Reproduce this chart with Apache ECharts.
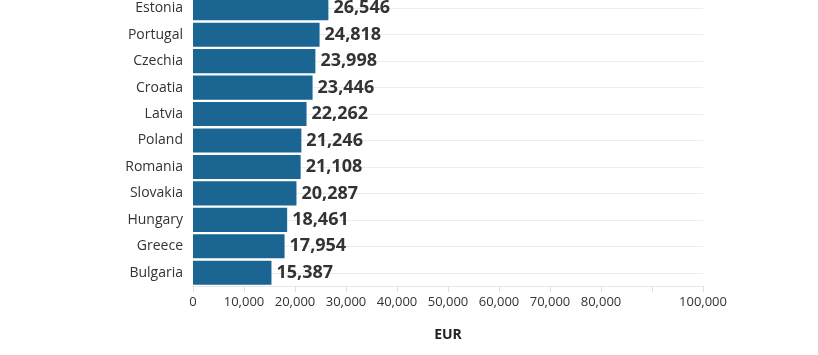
<!DOCTYPE html>
<html><head><meta charset="utf-8">
<script src="https://cdn.jsdelivr.net/npm/echarts@6/dist/echarts.min.js"></script>
<style>html,body{margin:0;padding:0;background:#fff;overflow:hidden}#c{width:818px;height:360px;position:absolute;left:0;top:-5px}</style>
</head><body><div id="c"></div>
<script>
const categories = ["Estonia","Portugal","Czechia","Croatia","Latvia","Poland","Romania","Slovakia","Hungary","Greece","Bulgaria"];
const values = [26546,24818,23998,23446,22262,21246,21108,20287,18461,17954,15387];
const hiddenTickLabels = [90000];
const axisName = "EUR";

const chart = echarts.init(document.getElementById('c'), null, {renderer:'canvas'});
chart.setOption({
  animation:false,
  grid:{left:193,right:115,top:0,bottom:69,containLabel:false},
  xAxis:{
    type:'value',min:0,max:100000,interval:10000,
    name:axisName,nameLocation:'middle',nameGap:42,
    nameTextStyle:{fontFamily:'Open Sans',fontWeight:'bold',fontSize:14,color:'#222'},
    axisLine:{show:true,lineStyle:{color:'#e6e6e6'}},
    axisTick:{show:true,length:6,lineStyle:{color:'#e0e0e0'}},
    splitLine:{show:false},
    axisLabel:{fontFamily:'Open Sans',fontSize:13,color:'#333',margin:10,
      formatter:v=>hiddenTickLabels.includes(v)?'':v.toLocaleString('en-US')}
  },
  yAxis:{
    type:'category',data:categories,inverse:true,
    axisLine:{show:false},axisTick:{show:false},splitLine:{show:false},
    axisLabel:{fontFamily:'Open Sans',fontSize:14,color:'#333',margin:10}
  },
  series:[{
    type:'bar',data:values,barCategoryGap:'9%',
    itemStyle:{color:'#1a6592'},
    label:{show:true,position:'right',distance:5,fontFamily:'Open Sans',fontWeight:'bold',fontSize:18,color:'#333',
      formatter:p=>p.value.toLocaleString('en-US')},
    markLine:{silent:true,symbol:'none',z:0,label:{show:false},
      lineStyle:{color:'#ececec',width:1,type:'solid'},
      data:categories.map(c=>({yAxis:c}))},
    z:2
  }]
});
</script></body></html>
